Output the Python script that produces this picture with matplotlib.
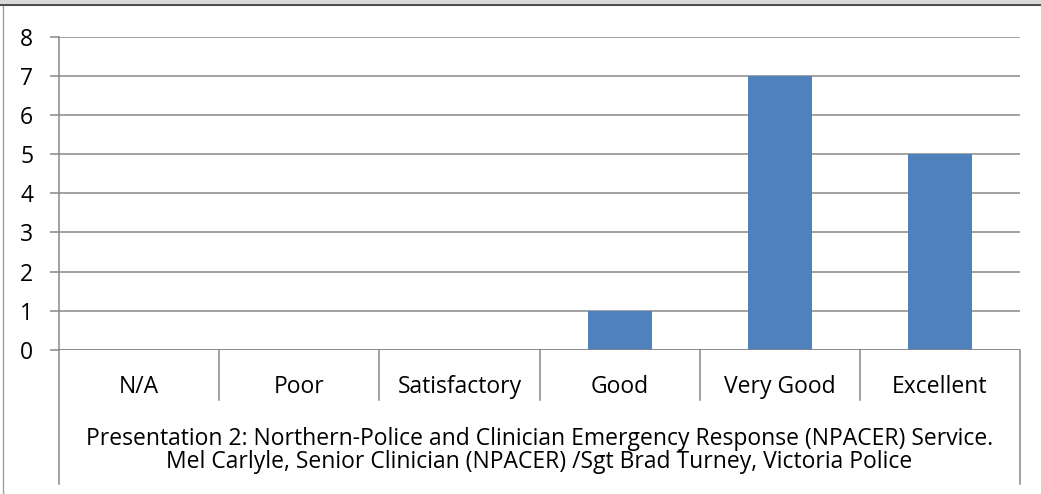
import numpy as np
import matplotlib.pyplot as plt
from matplotlib.transforms import blended_transform_factory

categories = ['N/A', 'Poor', 'Satisfactory', 'Good', 'Very Good', 'Excellent']
counts = [0, 0, 0, 1, 7, 5]
title_lines = ['Presentation 2: Northern-Police and Clinician Emergency Response (NPACER) Service.',
               'Mel Carlyle, Senior Clinician (NPACER) /Sgt Brad Turney, Victoria Police']

plt.rcParams['font.family'] = ['Open Sans', 'DejaVu Sans']
W, H = 1041, 494
fig = plt.figure(figsize=(W / 100, H / 100), dpi=100)
FS = 16.5

# axes box in pixel terms
left, right, y0, y8 = 59, 1020, 350, 36.5
ax = fig.add_axes([left / W, 1 - y0 / H, (right - left) / W, (y0 - y8) / H])

x = np.arange(len(categories))
ax.bar(x, counts, width=0.4, color='#4f81bd', zorder=3)

ax.set_xlim(-0.5, len(categories) - 0.5)
ax.set_ylim(0, 8)
ax.set_yticks(range(0, 9))
ax.yaxis.grid(True, color='#878787', linewidth=1.1)
ax.set_axisbelow(True)
ax.tick_params(axis='y', length=6.5, width=1.1, color='#878787', pad=12, labelsize=FS)
ax.set_xticks([])
for s in ['top', 'right', 'bottom']:
    ax.spines[s].set_visible(False)
ax.spines['left'].set_color('#878787')
ax.spines['left'].set_linewidth(1.1)
ax.axhline(0, color='#878787', linewidth=1.1, zorder=4)

# category dividers and labels below the axis
tr = blended_transform_factory(ax.transData, fig.transFigure)
bounds = np.arange(len(categories) + 1) - 0.5
for i, b in enumerate(bounds):
    if i == 0 or i == len(bounds) - 1:
        ybot = 1 - 484 / H
    else:
        ybot = 1 - 400 / H
    ax.plot([b, b], [1 - y0 / H, ybot], transform=tr, color='#878787',
            linewidth=1.1, clip_on=False)
for xi, lab in zip(x, categories):
    ax.text(xi, 1 - 393 / H, lab, transform=tr, ha='center', va='baseline', fontsize=FS)

ax.text(2.5, 1 - 445 / H, title_lines[0], transform=tr, ha='center', va='baseline', fontsize=FS)
ax.text(2.5, 1 - 468 / H, title_lines[1], transform=tr, ha='center', va='baseline', fontsize=FS)

# frame bits from the page: grey band at top, left border
fig.patches.append(plt.Rectangle((0, 1 - 5 / H), 1, 5 / H, transform=fig.transFigure,
                                 color='#d9d9d9', zorder=0))
fig.lines.append(plt.Line2D([0, 1], [1 - 5.5 / H, 1 - 5.5 / H], transform=fig.transFigure,
                            color='#333333', linewidth=1.2))
fig.lines.append(plt.Line2D([3 / W, 3 / W], [0, 1 - 6 / H], transform=fig.transFigure,
                            color='#a0a0a0', linewidth=1.0))

fig.savefig('out.png', dpi=100)
